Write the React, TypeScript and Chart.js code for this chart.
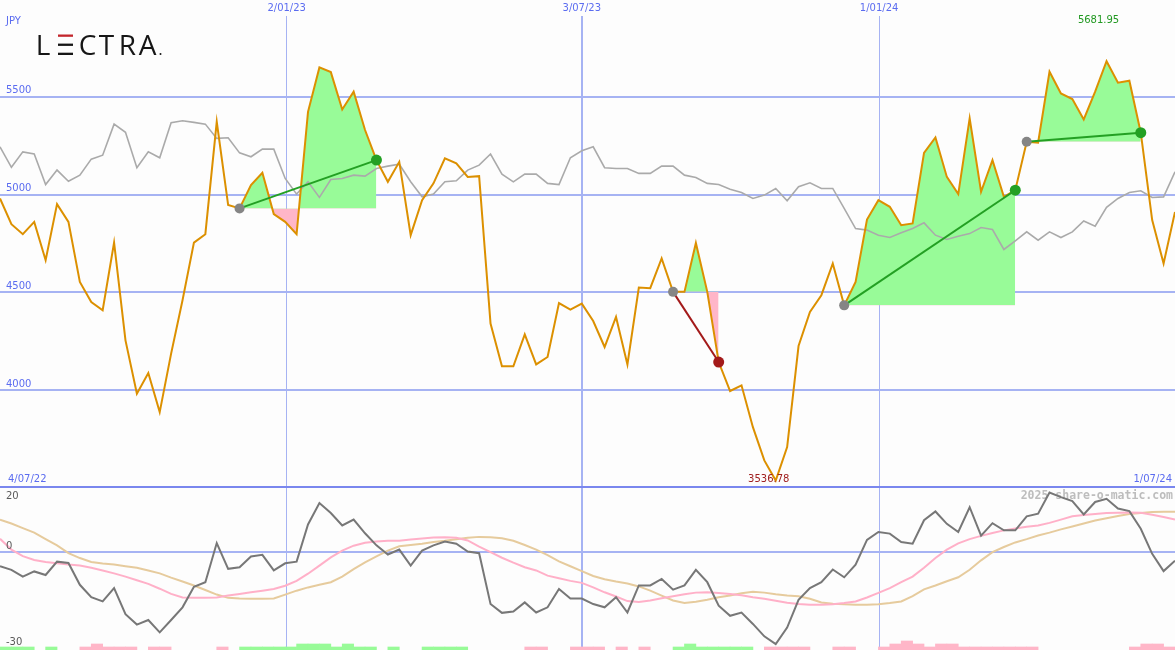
import React, { useEffect, useRef } from "react";
import { Chart, registerables } from "chart.js";

Chart.register(...registerables);

// ---------- data ----------
const X_TICKS = [25.13, 51.0, 77.06];
const X_TICK_LABELS = ["2/01/23", "3/07/23", "1/01/24"];
const START_LABEL = "4/07/22";
const END_LABEL = "1/07/24";
const CURRENCY = "JPY";
const PRICE_TICKS = [4000, 4500, 5000, 5500];
const OSC_LABELS = [20, 0, -30];

const PRICE = [
  4980, 4848, 4797, 4860, 4664, 4951, 4860, 4553, 4450, 4408,
  4754, 4254, 3981, 4087, 3887, 4186, 4459, 4754, 4797, 5372,
  4946, 4929, 5048, 5111, 4900, 4860, 4797, 5423, 5650, 5626,
  5435, 5526, 5330, 5176, 5065, 5167, 4792, 4971, 5057, 5185,
  5159, 5090, 5094, 4340, 4121, 4121, 4285, 4131, 4169, 4445,
  4411, 4442, 4353, 4220, 4374, 4131, 4524, 4521, 4673, 4502,
  4502, 4752, 4502, 4143, 3995, 4024, 3810, 3640, 3536.78, 3708,
  4225, 4399, 4485, 4647, 4433, 4553, 4872, 4971, 4937, 4843,
  4852, 5213, 5292, 5090, 5002, 5389, 5014, 5176, 4988, 5022,
  5270, 5265, 5628, 5517, 5488, 5384, 5526, 5681.95, 5572, 5582,
  5316, 4869, 4647, 4911,
];

const INDEX_LINE = [
  5244, 5139, 5218, 5207, 5051, 5125, 5068, 5099, 5181, 5201,
  5360, 5318, 5137, 5218, 5188, 5367, 5377, 5369, 5360, 5287,
  5290, 5213, 5193, 5232, 5232, 5082, 5002, 5065, 4985, 5077,
  5082, 5099, 5094, 5133, 5145, 5155, 5065, 4988, 5002, 5065,
  5070, 5125, 5150, 5207, 5104, 5065, 5104, 5104, 5057, 5051,
  5188, 5224, 5244, 5137, 5133, 5133, 5108, 5108, 5145, 5145,
  5099, 5087, 5057, 5051, 5027, 5010, 4980, 4997, 5031, 4968,
  5040, 5060, 5031, 5031, 4929, 4826, 4818, 4792, 4780, 4804,
  4826, 4855, 4792, 4770, 4787, 4800, 4831, 4821, 4719, 4763,
  4809, 4766, 4809, 4780, 4809, 4865, 4838, 4934, 4980, 5010,
  5019, 4985, 4988, 5116,
];

const MOMENTUM = [
  -4.3, -5.4, -7.5, -5.9, -7.0, -2.9, -3.3, -10.0, -13.8, -15.1,
  -11.0, -19.0, -22.2, -20.8, -24.6, -20.8, -16.9, -10.6, -9.2, 2.8,
  -5.1, -4.6, -1.3, -0.8, -5.6, -3.4, -2.9, 8.5, 15.1, 12.0,
  8.2, 10.0, 5.8, 2.1, -0.7, 0.8, -4.1, 0.5, 2.1, 3.3,
  2.6, 0.2, -0.3, -15.9, -18.6, -18.2, -15.4, -18.5, -16.9, -11.3,
  -14.2, -14.2, -15.9, -16.9, -13.8, -18.5, -10.2, -10.2, -8.2, -11.5,
  -10.2, -5.4, -9.2, -16.4, -19.5, -18.5, -22.0, -25.8, -28.2, -23.1,
  -14.6, -11.0, -9.2, -5.3, -7.7, -3.8, 3.8, 6.2, 5.7, 3.1,
  2.6, 9.8, 12.5, 8.7, 6.2, 13.8, 5.1, 8.9, 6.7, 6.7,
  11.0, 11.8, 18.3, 16.9, 15.7, 11.6, 15.4, 16.4, 13.4, 12.6,
  7.2, -0.5, -5.8, -2.6,
];

const FAST_AVG = [
  4.1, 0.8, -1.2, -2.4, -3.0, -3.4, -3.8, -4.1, -4.8, -5.6,
  -6.5, -7.5, -8.6, -9.7, -11.2, -12.8, -13.9, -14.0, -14.0, -13.9,
  -13.3, -12.8, -12.3, -11.8, -11.3, -10.3, -8.8, -6.6, -4.1, -1.6,
  0.5, 2.0, 2.9, 3.3, 3.5, 3.5, 3.9, 4.2, 4.5, 4.6,
  4.4, 3.6, 1.7, 0.0, -1.7, -3.2, -4.6, -5.6, -7.2, -8.0,
  -8.8, -9.4, -10.8, -12.3, -13.6, -15.0, -15.3, -14.8, -14.1, -13.5,
  -12.9, -12.4, -12.3, -12.5, -12.8, -13.2, -13.8, -14.3, -14.9, -15.5,
  -15.9, -16.1, -16.1, -16.0, -15.6, -15.1, -13.9, -12.5, -11.0, -9.2,
  -7.5, -4.8, -1.8, 0.8, 2.7, 4.0, 5.0, 5.9, 6.7, 7.3,
  7.8, 8.2, 9.0, 10.0, 11.0, 11.4, 11.7, 12.0, 12.1, 12.2,
  12.1, 11.5, 10.8, 10.0,
];

const SLOW_AVG = [
  10.0, 8.8, 7.4, 6.0, 4.0, 2.1, -0.3, -1.8, -3.0, -3.5,
  -3.8, -4.3, -4.8, -5.6, -6.5, -7.8, -9.0, -10.2, -11.6, -13.0,
  -14.0, -14.2, -14.3, -14.3, -14.2, -13.0, -11.8, -10.8, -10.0, -9.2,
  -7.5, -5.2, -3.1, -1.3, 0.5, 1.8, 2.2, 2.6, 3.1, 3.5,
  4.0, 4.4, 4.7, 4.6, 4.3, 3.5, 2.2, 0.8, -0.9, -2.8,
  -4.3, -5.8, -7.3, -8.3, -9.0, -9.6, -10.5, -11.8, -13.3, -14.8,
  -15.6, -15.2, -14.6, -13.8, -13.3, -12.6, -12.1, -12.4, -12.9, -13.3,
  -13.5, -14.3, -15.4, -15.8, -16.0, -16.1, -16.1, -16.0, -15.6, -15.1,
  -13.5, -11.4, -10.2, -8.9, -7.7, -5.4, -2.5, 0.0, 1.6, 3.0,
  4.0, 5.1, 6.0, 7.0, 7.9, 8.8, 9.7, 10.4, 11.1, 11.7,
  12.0, 12.3, 12.4, 12.4,
];

// weekly signal strip at the bottom (+ green, - pink, magnitude = level)
const SIGNAL = [
  1, 1, 1, 0, 1, 0, 0, -1, -2, -1,
  -1, -1, 0, -1, -1, 0, 0, 0, 0, -1,
  0, 1, 1, 1, 1, 1, 2, 2, 2, 1,
  2, 1, 1, 0, 1, 0, 0, 1, 1, 1,
  1, 0, 0, 0, 0, 0, -1, -1, 0, 0,
  -1, -1, -1, 0, -1, 0, -1, 0, 0, 1,
  2, 1, 1, 1, 1, 1, 0, -1, -1, -1,
  -1, 0, 0, -1, -1, 0, 0, -1, -2, -3,
  -2, -1, -2, -2, -1, -1, -1, -1, -1, -1,
  -1, 0, 0, 0, 0, 0, 0, 0, 0, -1,
  -2, -2, -1, 0,
];

const TRADE_ENTRY = [21, 59, 74, 90];
const TRADE_EXIT = [33, 63, 89, 100];

// ---------- styles ----------
const BG = "#fdfdfd";
const GRID = "#a6b3f3";
const DIVIDER = "#7a87ee";
const LABEL_BLUE = "#5b6cf0";
const FONT = '"DejaVu Sans", sans-serif';
const PRICE_COLOR = "#dc9000";
const INDEX_COLOR = "#aaaaaa";
const MOM_COLOR = "#777777";
const FAST_COLOR = "#ffb0c8";
const SLOW_COLOR = "#e6cb9d";
const UP_FILL = "#98fb98";
const DOWN_FILL = "#ffb6c8";
const WIN = "#23a023";
const LOSS = "#a31a1a";
const OSC_MIN = -30;
const OSC_MAX = 20;
const PRICE_MIN = 3504;
const PRICE_MAX = 5913;
const BAR_UNIT = 0.92;

const N = PRICE.length;
const series = (arr: number[]) => arr.map((y, i) => ({ x: i, y }));
const isWin = (j: number) => PRICE[TRADE_EXIT[j]] >= PRICE[TRADE_ENTRY[j]];

const noPad = (s: any) => {
  s.paddingTop = 0;
  s.paddingBottom = 0;
  s.paddingLeft = 0;
  s.paddingRight = 0;
};

const overlay = {
  id: "overlay",
  beforeDraw(chart: any) {
    const { ctx, width, height } = chart;
    ctx.save();
    ctx.fillStyle = BG;
    ctx.fillRect(0, 0, width, height);
    ctx.restore();
  },
  beforeDatasetsDraw(chart: any) {
    const { ctx, width } = chart;
    const y = chart.scales.y;
    const y2 = chart.scales.y2;
    ctx.save();
    ctx.fillStyle = DIVIDER;
    ctx.fillRect(0, Math.round(y.bottom) - 1, width, 2);
    ctx.font = 'bold 11.5px "DejaVu Sans Mono", monospace';
    ctx.fillStyle = "#bdbdbd";
    ctx.textAlign = "right";
    ctx.textBaseline = "middle";
    ctx.fillText("2025 share-o-matic.com", width - 2, y2.getPixelForValue(OSC_MAX) + 9.5);
    ctx.restore();
  },
  afterDatasetsDraw(chart: any) {
    const { ctx, width } = chart;
    const x = chart.scales.x;
    const y = chart.scales.y;
    const y2 = chart.scales.y2;
    ctx.save();
    ctx.textBaseline = "middle";
    ctx.font = `10px ${FONT}`;

    ctx.fillStyle = LABEL_BLUE;
    ctx.textAlign = "left";
    ctx.fillText(CURRENCY, 6, 21);
    ctx.fillText(START_LABEL, 8, y.bottom - 8);
    ctx.textAlign = "right";
    ctx.fillText(END_LABEL, width - 3, y.bottom - 8);

    // high / low
    let hi = 0;
    let lo = 0;
    PRICE.forEach((v, i) => {
      if (v > PRICE[hi]) hi = i;
      if (v < PRICE[lo]) lo = i;
    });
    ctx.textAlign = "center";
    ctx.fillStyle = "#229922";
    ctx.fillText(PRICE[hi].toFixed(2), x.getPixelForValue(hi) - 8, 20);
    ctx.fillStyle = "#a02020";
    ctx.fillText(PRICE[lo].toFixed(2), x.getPixelForValue(lo) - 7, y.bottom - 8);

    // oscillator labels
    ctx.fillStyle = "#5a5a5a";
    ctx.textAlign = "left";
    const offs = [9.5, -6, -8];
    OSC_LABELS.forEach((v, i) => {
      ctx.fillText(String(v), 6, y2.getPixelForValue(v) + offs[i]);
    });

    // logo
    ctx.fillStyle = "#161616";
    ctx.font = '28px "Open Sans", sans-serif';
    ctx.textBaseline = "alphabetic";
    ctx.textAlign = "center";
    const letters: [string, number][] = [["L", 43], ["C", 87.5], ["T", 106.5], ["R", 127.5], ["A", 147.5]];
    letters.forEach(([c, cx]) => ctx.fillText(c, cx, 55));
    ctx.fillStyle = "#c3262c";
    ctx.fillRect(58, 34.5, 15, 2.3);
    ctx.fillStyle = "#161616";
    ctx.fillRect(58, 43.6, 15, 2.3);
    ctx.fillRect(58, 52.7, 15, 2.3);
    ctx.beginPath();
    ctx.arc(160.5, 54, 1, 0, Math.PI * 2);
    ctx.fill();
    ctx.restore();
  },
};

function buildConfig(): any {
  const fills = TRADE_ENTRY.map((e, j) => ({
    type: "line",
    data: PRICE.slice(e, TRADE_EXIT[j] + 1).map((v, k) => ({ x: e + k, y: v })),
    yAxisID: "y",
    borderColor: "rgba(0,0,0,0)",
    borderWidth: 0,
    pointRadius: 0,
    fill: { target: { value: PRICE[e] }, above: UP_FILL, below: DOWN_FILL },
    order: 6,
  }));
  const tradeLines = TRADE_ENTRY.map((e, j) => ({
    type: "line",
    data: [
      { x: e, y: PRICE[e] },
      { x: TRADE_EXIT[j], y: PRICE[TRADE_EXIT[j]] },
    ],
    yAxisID: "y",
    borderColor: isWin(j) ? WIN : LOSS,
    borderWidth: 2,
    pointRadius: 0,
    order: 1,
  }));
  const bars = SIGNAL.map((v, i) => ({ v, i }))
    .filter((d) => d.v !== 0)
    .map((d) => ({ x: d.i + 0.5, y: [OSC_MIN, OSC_MIN + Math.abs(d.v) * BAR_UNIT] }));
  const barColors = SIGNAL.filter((v) => v !== 0).map((v) => (v > 0 ? UP_FILL : DOWN_FILL));

  return {
    type: "line",
    data: {
      datasets: [
        {
          type: "line",
          data: TRADE_ENTRY.map((e) => ({ x: e, y: PRICE[e] })),
          yAxisID: "y",
          showLine: false,
          pointRadius: 5,
          pointBorderWidth: 0,
          pointBackgroundColor: "#858585",
          order: 0,
        },
        {
          type: "line",
          data: TRADE_EXIT.map((e) => ({ x: e, y: PRICE[e] })),
          yAxisID: "y",
          showLine: false,
          pointRadius: 5.5,
          pointBorderWidth: 0,
          pointBackgroundColor: TRADE_EXIT.map((_, j) => (isWin(j) ? WIN : LOSS)),
          order: 0,
        },
        ...tradeLines,
        {
          type: "line",
          data: series(PRICE),
          yAxisID: "y",
          borderColor: PRICE_COLOR,
          borderWidth: 2,
          pointRadius: 0,
          order: 2,
        },
        {
          type: "line",
          data: series(INDEX_LINE),
          yAxisID: "y",
          borderColor: INDEX_COLOR,
          borderWidth: 1.6,
          pointRadius: 0,
          order: 3,
        },
        ...fills,
        {
          type: "line",
          data: series(MOMENTUM),
          yAxisID: "y2",
          borderColor: MOM_COLOR,
          borderWidth: 2,
          pointRadius: 0,
          order: 7,
        },
        {
          type: "line",
          data: series(FAST_AVG),
          yAxisID: "y2",
          borderColor: FAST_COLOR,
          borderWidth: 2,
          pointRadius: 0,
          order: 8,
        },
        {
          type: "line",
          data: series(SLOW_AVG),
          yAxisID: "y2",
          borderColor: SLOW_COLOR,
          borderWidth: 2,
          pointRadius: 0,
          order: 9,
        },
        {
          type: "bar",
          data: bars,
          yAxisID: "y2",
          backgroundColor: barColors,
          borderWidth: 0,
          barPercentage: 1,
          categoryPercentage: 1,
          order: 10,
        },
      ],
    },
    options: {
      animation: false,
      responsive: false,
      devicePixelRatio: 1,
      layout: { padding: 0, autoPadding: false },
      elements: { line: { tension: 0 }, point: { radius: 0 } },
      plugins: { legend: { display: false }, tooltip: { enabled: false } },
      events: [],
      scales: {
        x: {
          type: "linear",
          position: "top",
          min: 0,
          max: N - 1,
          offset: false,
          afterBuildTicks: (s: any) => {
            s.ticks = X_TICKS.map((v) => ({ value: v }));
          },
          afterFit: (s: any) => {
            s.height = 16;
            noPad(s);
          },
          grid: {
            color: GRID,
            lineWidth: (c: any) => (c.index === 1 ? 2 : 1),
            drawTicks: false,
            offset: false,
          },
          border: { display: false },
          ticks: {
            autoSkip: false,
            maxRotation: 0,
            padding: 2,
            color: LABEL_BLUE,
            font: { family: FONT, size: 10 },
            callback: (_v: any, i: number) => X_TICK_LABELS[i],
          },
        },
        y: {
          type: "linear",
          position: "left",
          stack: "panes",
          stackWeight: 471,
          weight: 2,
          min: PRICE_MIN,
          max: PRICE_MAX,
          afterBuildTicks: (s: any) => {
            s.ticks = PRICE_TICKS.map((v) => ({ value: v }));
          },
          afterFit: (s: any) => {
            s.width = 0;
            noPad(s);
          },
          grid: { color: GRID, lineWidth: 2, drawTicks: false },
          border: { display: false },
          ticks: {
            mirror: true,
            padding: 6,
            labelOffset: -6,
            color: LABEL_BLUE,
            font: { family: FONT, size: 10 },
            callback: (v: any) => String(v),
          },
        },
        y2: {
          type: "linear",
          position: "left",
          stack: "panes",
          stackWeight: 163,
          weight: 1,
          min: OSC_MIN,
          max: OSC_MAX,
          afterBuildTicks: (s: any) => {
            s.ticks = [{ value: 0 }];
          },
          afterFit: (s: any) => {
            s.width = 0;
            noPad(s);
          },
          grid: { color: GRID, lineWidth: 2, drawTicks: false },
          border: { display: false },
          ticks: { display: false },
        },
      },
    },
    plugins: [overlay],
  };
}

export default function App() {
  const ref = useRef<HTMLCanvasElement>(null);
  useEffect(() => {
    document.body.style.margin = "0";
    const chart = new Chart(ref.current as HTMLCanvasElement, buildConfig());
    return () => chart.destroy();
  }, []);
  return (
    <div style={{ position: "fixed", left: 0, top: 0, width: 1175, height: 650, background: BG }}>
      <canvas ref={ref} width={1175} height={650} style={{ display: "block" }} />
    </div>
  );
}
